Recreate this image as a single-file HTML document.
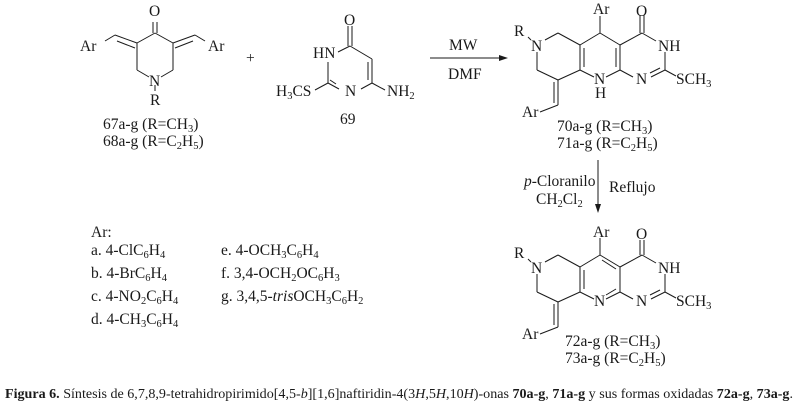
<!DOCTYPE html>
<html><head><meta charset="utf-8"><style>
body{margin:0;background:#fff;}
svg{display:block;font-family:"Liberation Serif",serif;}
text{fill:#1a1a1a;}
.t{font-size:15.5px;}
.s{font-size:10.5px;}
</style></head><body>
<svg width="803" height="409" viewBox="0 0 803 409" xmlns="http://www.w3.org/2000/svg">
<g stroke="#1a1a1a" stroke-width="1" fill="none">
<line x1="153" y1="22" x2="153" y2="33"/><line x1="157" y1="22" x2="157" y2="33"/>
<line x1="155" y1="33" x2="137" y2="43"/><line x1="155" y1="33" x2="173" y2="43"/>
<line x1="137" y1="43" x2="137" y2="70"/><line x1="173" y1="43" x2="173" y2="70"/>
<line x1="137" y1="70" x2="149" y2="77"/><line x1="173" y1="70" x2="161" y2="77"/>
<line x1="155" y1="85" x2="155" y2="91"/>
<line x1="137" y1="43" x2="115" y2="35"/><line x1="135" y1="48" x2="117" y2="41"/>
<line x1="173" y1="43" x2="195" y2="35"/><line x1="175" y1="48" x2="193" y2="41"/>
<line x1="115" y1="35" x2="105" y2="41"/><line x1="195" y1="35" x2="205" y2="41"/>
<line x1="348" y1="26" x2="348" y2="46"/><line x1="352" y1="26" x2="352" y2="46"/>
<line x1="350" y1="46" x2="372" y2="59"/><line x1="372" y1="59" x2="372" y2="83"/><line x1="368" y1="62" x2="368" y2="80"/>
<line x1="372" y1="83" x2="361" y2="89"/><line x1="339" y1="89" x2="328" y2="83"/><line x1="336" y1="84" x2="330" y2="80"/>
<line x1="328" y1="83" x2="328" y2="62"/><line x1="338" y1="52" x2="350" y2="46"/>
<line x1="328" y1="83" x2="315" y2="90"/><line x1="372" y1="83" x2="385" y2="90"/>
<line x1="430" y1="58" x2="503" y2="58"/>
<line x1="598" y1="160" x2="598" y2="208"/>
</g>
<polygon points="508,58 499,55 499,61" fill="#1a1a1a"/>
<polygon points="598,213 595,204 601,204" fill="#1a1a1a"/>

<g stroke="#1a1a1a" stroke-width="1" fill="none">
<line x1="600" y1="16" x2="600" y2="33"/>
<line x1="600" y1="33" x2="580" y2="45"/><line x1="600" y1="33" x2="620" y2="45"/>
<line x1="580" y1="45" x2="580" y2="70"/><line x1="584" y1="48" x2="584" y2="67"/>
<line x1="620" y1="45" x2="620" y2="70"/><line x1="616" y1="48" x2="616" y2="67"/>
<line x1="580" y1="70" x2="594" y2="77"/><line x1="620" y1="70" x2="606" y2="77"/>
<line x1="580" y1="45" x2="558" y2="33"/><line x1="558" y1="33" x2="545" y2="40"/>
<line x1="537" y1="52" x2="537" y2="70"/><line x1="537" y1="70" x2="558" y2="80"/>
<line x1="558" y1="80" x2="580" y2="70"/>
<line x1="558" y1="80" x2="558" y2="105"/><line x1="554" y1="82" x2="554" y2="103"/>
<line x1="558" y1="105" x2="540" y2="112"/>
<line x1="528" y1="37" x2="531" y2="40"/>
<line x1="620" y1="45" x2="642" y2="33"/>
<line x1="640" y1="15" x2="640" y2="33"/><line x1="644" y1="15" x2="644" y2="33"/>
<line x1="642" y1="33" x2="656" y2="41"/>
<line x1="665" y1="52" x2="665" y2="70"/>
<line x1="665" y1="70" x2="651" y2="77"/><line x1="660" y1="68" x2="650" y2="73"/>
<line x1="620" y1="70" x2="633" y2="77"/>
<line x1="665" y1="70" x2="676" y2="76"/>
</g>
<g class="t">
<text x="149" y="16">O</text>
<text x="80" y="51">Ar</text><text x="208" y="51">Ar</text>
<text x="149" y="86">N</text><text x="150" y="105">R</text>
<text x="103" y="129">67a-g (R=CH<tspan class="s" dy="3">3</tspan><tspan dy="-3">)</tspan></text>
<text x="103" y="146">68a-g (R=C<tspan class="s" dy="3">2</tspan><tspan dy="-3">H</tspan><tspan class="s" dy="3">5</tspan><tspan dy="-3">)</tspan></text>
<text x="246" y="63">+</text>
<text x="344" y="25">O</text>
<text x="313" y="58">HN</text>
<text x="345" y="96">N</text>
<text x="276" y="96">H<tspan class="s" dy="3">3</tspan><tspan dy="-3">CS</tspan></text>
<text x="387" y="96">NH<tspan class="s" dy="3">2</tspan></text>
<text x="340" y="124">69</text>
<text x="449" y="50">MW</text><text x="448" y="79">DMF</text>
<text x="593" y="14">Ar</text><text x="636" y="16">O</text>
<text x="514" y="36">R</text><text x="531" y="51">N</text>
<text x="658" y="51">NH</text><text x="594" y="84">N</text><text x="595" y="98">H</text>
<text x="636" y="84">N</text><text x="676" y="84">SCH<tspan class="s" dy="3">3</tspan></text>
<text x="522" y="117">Ar</text>
<text x="557" y="131">70a-g (R=CH<tspan class="s" dy="3">3</tspan><tspan dy="-3">)</tspan></text>
<text x="557" y="148">71a-g (R=C<tspan class="s" dy="3">2</tspan><tspan dy="-3">H</tspan><tspan class="s" dy="3">5</tspan><tspan dy="-3">)</tspan></text>
<text x="524" y="186"><tspan font-style="italic">p</tspan>-Cloranilo</text>
<text x="536" y="204">CH<tspan class="s" dy="3">2</tspan><tspan dy="-3">Cl</tspan><tspan class="s" dy="3">2</tspan></text>
<text x="609" y="192">Reflujo</text>
<text x="593" y="237">Ar</text><text x="636" y="239">O</text>
<text x="514" y="258">R</text><text x="531" y="273">N</text>
<text x="658" y="273">NH</text><text x="594" y="306">N</text>
<text x="636" y="306">N</text><text x="676" y="306">SCH<tspan class="s" dy="3">3</tspan></text>
<text x="522" y="339">Ar</text>
<text x="565" y="346">72a-g (R=CH<tspan class="s" dy="3">3</tspan><tspan dy="-3">)</tspan></text>
<text x="565" y="363">73a-g (R=C<tspan class="s" dy="3">2</tspan><tspan dy="-3">H</tspan><tspan class="s" dy="3">5</tspan><tspan dy="-3">)</tspan></text>
<text x="91" y="237">Ar:</text>
<text x="91" y="255">a. 4-ClC<tspan class="s" dy="3">6</tspan><tspan dy="-3">H</tspan><tspan class="s" dy="3">4</tspan></text>
<text x="91" y="278">b. 4-BrC<tspan class="s" dy="3">6</tspan><tspan dy="-3">H</tspan><tspan class="s" dy="3">4</tspan></text>
<text x="91" y="301">c. 4-NO<tspan class="s" dy="3">2</tspan><tspan dy="-3">C</tspan><tspan class="s" dy="3">6</tspan><tspan dy="-3">H</tspan><tspan class="s" dy="3">4</tspan></text>
<text x="91" y="324">d. 4-CH<tspan class="s" dy="3">3</tspan><tspan dy="-3">C</tspan><tspan class="s" dy="3">6</tspan><tspan dy="-3">H</tspan><tspan class="s" dy="3">4</tspan></text>
<text x="221" y="255">e. 4-OCH<tspan class="s" dy="3">3</tspan><tspan dy="-3">C</tspan><tspan class="s" dy="3">6</tspan><tspan dy="-3">H</tspan><tspan class="s" dy="3">4</tspan></text>
<text x="221" y="278">f. 3,4-OCH<tspan class="s" dy="3">2</tspan><tspan dy="-3">OC</tspan><tspan class="s" dy="3">6</tspan><tspan dy="-3">H</tspan><tspan class="s" dy="3">3</tspan></text>
<text x="221" y="301">g. 3,4,5-<tspan font-style="italic">tris</tspan>OCH<tspan class="s" dy="3">3</tspan><tspan dy="-3">C</tspan><tspan class="s" dy="3">6</tspan><tspan dy="-3">H</tspan><tspan class="s" dy="3">2</tspan></text>
</g>
<g stroke="#1a1a1a" stroke-width="1" fill="none" transform="translate(0,222)">
<line x1="600" y1="16" x2="600" y2="33"/>
<line x1="600" y1="33" x2="580" y2="45"/><line x1="600" y1="33" x2="620" y2="45"/><line x1="602" y1="38" x2="616" y2="47"/>
<line x1="580" y1="45" x2="580" y2="70"/><line x1="584" y1="48" x2="584" y2="67"/>
<line x1="620" y1="45" x2="620" y2="70"/>
<line x1="580" y1="70" x2="594" y2="77"/><line x1="620" y1="70" x2="606" y2="77"/><line x1="616" y1="67" x2="606" y2="73"/>
<line x1="580" y1="45" x2="558" y2="33"/><line x1="558" y1="33" x2="545" y2="40"/>
<line x1="537" y1="52" x2="537" y2="70"/><line x1="537" y1="70" x2="558" y2="80"/>
<line x1="558" y1="80" x2="580" y2="70"/>
<line x1="558" y1="80" x2="558" y2="105"/><line x1="554" y1="82" x2="554" y2="103"/>
<line x1="558" y1="105" x2="540" y2="112"/>
<line x1="528" y1="37" x2="531" y2="40"/>
<line x1="620" y1="45" x2="642" y2="33"/>
<line x1="640" y1="18" x2="640" y2="33"/><line x1="644" y1="18" x2="644" y2="33"/>
<line x1="642" y1="33" x2="656" y2="41"/>
<line x1="665" y1="52" x2="665" y2="70"/>
<line x1="665" y1="70" x2="651" y2="77"/><line x1="660" y1="68" x2="650" y2="73"/>
<line x1="620" y1="70" x2="633" y2="77"/>
<line x1="665" y1="70" x2="676" y2="76"/>
</g>
<text x="5" y="398" style="font-size:14px" textLength="788" lengthAdjust="spacingAndGlyphs"><tspan font-weight="bold">Figura 6.</tspan> Síntesis de 6,7,8,9-tetrahidropirimido[4,5-<tspan font-style="italic">b</tspan>][1,6]naftiridin-4(3<tspan font-style="italic">H</tspan>,5<tspan font-style="italic">H</tspan>,10<tspan font-style="italic">H</tspan>)-onas <tspan font-weight="bold">70a-g</tspan>, <tspan font-weight="bold">71a-g</tspan> y sus formas oxidadas <tspan font-weight="bold">72a-g</tspan>, <tspan font-weight="bold">73a-g</tspan>.</text>
</svg>
</body></html>
